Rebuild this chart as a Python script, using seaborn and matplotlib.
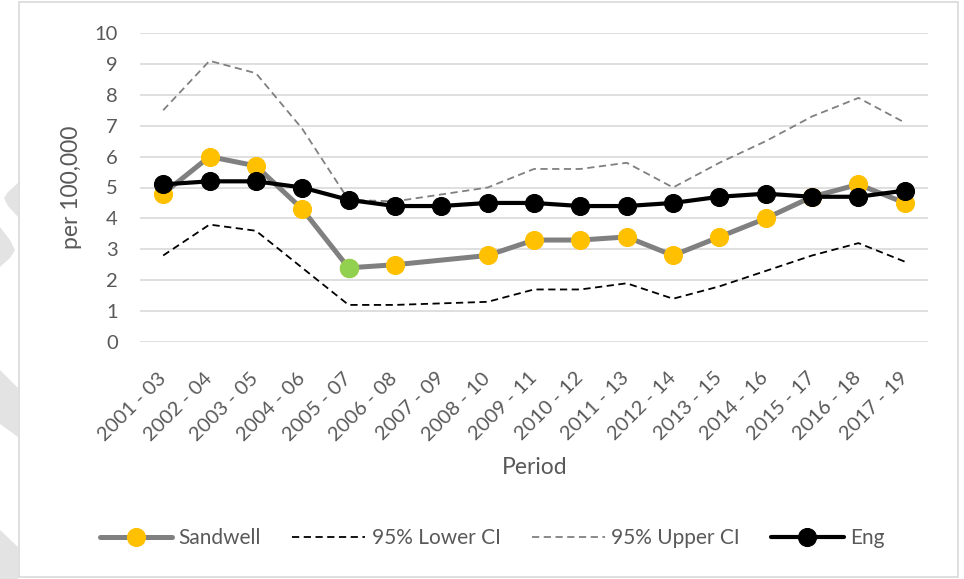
import numpy as np
import pandas as pd
import matplotlib
matplotlib.use("Agg")
import matplotlib.pyplot as plt
from matplotlib.patches import Rectangle, Polygon
import seaborn as sns

periods = ["2001 - 03", "2002 - 04", "2003 - 05", "2004 - 06", "2005 - 07",
           "2006 - 08", "2007 - 09", "2008 - 10", "2009 - 11", "2010 - 12",
           "2011 - 13", "2012 - 14", "2013 - 15", "2014 - 16", "2015 - 17",
           "2016 - 18", "2017 - 19"]
sandwell = [4.8, 6.0, 5.7, 4.3, 2.4, 2.5, np.nan, 2.8, 3.3, 3.3,
            3.4, 2.8, 3.4, 4.0, 4.7, 5.1, 4.5]
lower_ci = [2.8, 3.8, 3.6, 2.4, 1.2, 1.2, np.nan, 1.3, 1.7, 1.7,
            1.9, 1.4, 1.8, 2.3, 2.8, 3.2, 2.6]
upper_ci = [7.5, 9.1, 8.7, 6.9, 4.6, 4.55, np.nan, 5.0, 5.6, 5.6,
            5.8, 5.0, 5.8, 6.5, 7.3, 7.9, 7.1]
england = [5.1, 5.2, 5.2, 5.0, 4.6, 4.4, 4.4, 4.5, 4.5, 4.4,
           4.4, 4.5, 4.7, 4.8, 4.7, 4.7, 4.9]
highlight = "2005 - 07"   # point drawn in green

df = pd.DataFrame({"period": periods, "pos": range(len(periods)),
                   "Sandwell": sandwell, "lower": lower_ci,
                   "upper": upper_ci, "Eng": england})

sns.set_theme(style="white")
plt.rcParams["font.family"] = ["Lato", "DejaVu Sans"]
txt = "#595959"

fig = plt.figure(figsize=(9.64, 5.79), dpi=100)
W, H = 964, 579

# faint watermark shapes at the left edge
for pts in [[(18, 183), (8, 192), (4, 198), (8, 206), (18, 217)],
            [(0, 227), (10, 240), (15, 250), (10, 258), (0, 267)],
            [(0, 370), (18, 388), (18, 437), (0, 424)],
            [(0, 530), (18, 547), (18, 579), (0, 579)]]:
    fig.patches.append(Polygon([(x / W, 1 - y / H) for x, y in pts], closed=True,
                               transform=fig.transFigure, facecolor="#E3E3E3",
                               edgecolor="none", zorder=0))

fig.patches.append(Rectangle((18.5 / W, 2 / H), 939 / W, 575 / H, transform=fig.transFigure,
                             facecolor="none", edgecolor="#D9D9D9", lw=1.2, zorder=1))

ax = fig.add_axes([140 / W, 1 - 342 / H, 788 / W, 309 / H])
ax.patch.set_alpha(0)

d = df.dropna(subset=["Sandwell"])
sns.lineplot(data=d, x="pos", y="Sandwell", ax=ax, color="#808080", lw=3.6,
             marker="o", markersize=13, markerfacecolor="#FFC000",
             markeredgecolor="#FFC000", label="Sandwell", zorder=3)
hp = df[df["period"] == highlight]
ax.plot(hp["pos"], hp["Sandwell"], "o", markersize=13, color="#92D050", zorder=3.5)

d = df.dropna(subset=["lower"])
sns.lineplot(data=d, x="pos", y="lower", ax=ax, color="black", lw=1.3,
             linestyle=(0, (4, 2.5)), label="95% Lower CI", zorder=4)
d = df.dropna(subset=["upper"])
sns.lineplot(data=d, x="pos", y="upper", ax=ax, color="#808080", lw=1.3,
             linestyle=(0, (4, 2.5)), label="95% Upper CI", zorder=4)
sns.lineplot(data=df, x="pos", y="Eng", ax=ax, color="black", lw=3.0,
             marker="o", markersize=13, markerfacecolor="black",
             markeredgecolor="black", label="Eng", zorder=5)

ax.set_xlim(-0.5, len(periods) - 0.5)
ax.set_ylim(0, 10)
ax.set_yticks(range(0, 11))
ax.set_xticks(df["pos"])
ax.set_xticklabels(periods)
ax.yaxis.grid(True, color="#D9D9D9", lw=1.2)
ax.set_axisbelow(True)
for s in ax.spines.values():
    s.set_visible(False)
ax.tick_params(axis="y", length=0, pad=16, labelsize=14.5, labelcolor=txt)
ax.tick_params(axis="x", length=0, pad=24, labelsize=14.5, labelcolor=txt)
for lbl in ax.get_xticklabels():
    lbl.set_rotation(45)
    lbl.set_ha("right")
    lbl.set_va("center")
    lbl.set_rotation_mode("anchor")
ax.set_xlabel("")
ax.set_ylabel("")

fig.text(72 / W, 1 - 187 / H, "per 100,000", rotation=90, ha="center", va="center",
         fontsize=16.5, color=txt)
fig.text(535 / W, 1 - 468 / H, "Period", ha="center", va="center", fontsize=16.5, color=txt)

ax.legend(loc="center", bbox_to_anchor=(492 / W, 1 - 538 / H),
          bbox_transform=fig.transFigure, ncol=4, frameon=False, fontsize=15,
          handlelength=3.5, handletextpad=0.3, columnspacing=1.5, labelcolor=txt)

fig.savefig("out.png", dpi=100)
